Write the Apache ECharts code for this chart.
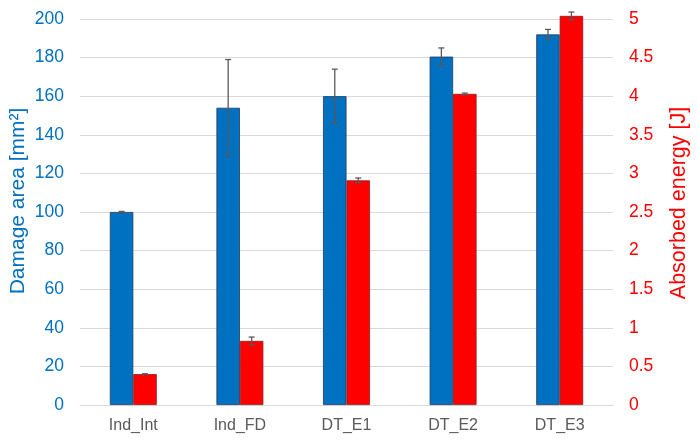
<!DOCTYPE html>
<html><head><meta charset="utf-8">
<script src="https://cdn.jsdelivr.net/npm/echarts@6/dist/echarts.min.js"></script>
<style>html,body{margin:0;padding:0;background:#fff}#c{width:699px;height:445px}</style>
</head><body><div id="c"></div>
<script>
var categories = ['Ind_Int', 'Ind_FD', 'DT_E1', 'DT_E2', 'DT_E3'];
var damageArea = [100, 154, 160, 180.5, 192];
var damageErr = [0.3, 25, 14, 4.5, 2.6];
var energy = [0.40, 0.83, 2.91, 4.03, 5.04];
var energyErr = [0.005, 0.05, 0.03, 0.01, 0.05];
var leftTicks = [0, 20, 40, 60, 80, 100, 120, 140, 160, 180, 200];
var rightTicks = [0, 0.5, 1, 1.5, 2, 2.5, 3, 3.5, 4, 4.5, 5];

var BW = 0.22;
function errRender(values, errs, side) {
  return function (params, api) {
    var i = api.value(0);
    var v = values[i], e = errs[i];
    var band = api.size([1, 0])[0];
    var off = side * band * BW / 2;
    var top = api.coord([i, v + e]);
    var bot = api.coord([i, v - e]);
    var x = top[0] + off;
    var style = { stroke: '#595959', lineWidth: 1.3 };
    return {
      type: 'group',
      children: [
        { type: 'line', shape: { x1: x, y1: top[1], x2: x, y2: bot[1] }, style: style },
        { type: 'line', shape: { x1: x - 3, y1: top[1], x2: x + 3, y2: top[1] }, style: style },
        { type: 'line', shape: { x1: x - 3, y1: bot[1], x2: x + 3, y2: bot[1] }, style: style }
      ]
    };
  };
}

var chart = echarts.init(document.getElementById('c'));
chart.setOption({
  animation: false,
  textStyle: { fontFamily: 'Liberation Sans, Arial, sans-serif' },
  grid: { left: 80, right: 86, top: 19, bottom: 40, containLabel: false, outerBoundsMode: 'none' },
  xAxis: {
    type: 'category',
    data: categories,
    axisTick: { show: false },
    axisLine: { lineStyle: { color: '#d9d9d9', width: 1 } },
    axisLabel: { color: '#595959', fontSize: 16, margin: 13 }
  },
  yAxis: [
    {
      type: 'value', min: leftTicks[0], max: leftTicks[leftTicks.length - 1], interval: 20,
      name: 'Damage area [mm²]', nameLocation: 'middle', nameRotate: 90, nameGap: 51,
      nameMoveOverlap: false,
      nameTextStyle: { color: '#0070C0', fontSize: 21, padding: [0, 0, 0, 22] },
      axisLine: { show: false }, axisTick: { show: false },
      axisLabel: { color: '#0070C0', fontSize: 17.5, margin: 16 },
      splitLine: { lineStyle: { color: '#d9d9d9', width: 1 } }
    },
    {
      type: 'value', min: rightTicks[0], max: rightTicks[rightTicks.length - 1], interval: 0.5,
      name: 'Absorbed energy [J]', nameLocation: 'middle', nameRotate: 90, nameGap: 55,
      nameMoveOverlap: false,
      nameTextStyle: { color: '#FF0000', fontSize: 21.5, padding: [0, 0, 0, 18] },
      axisLine: { show: false }, axisTick: { show: false },
      axisLabel: { color: '#FF0000', fontSize: 17.5, margin: 16 },
      splitLine: { show: false }
    }
  ],
  series: [
    {
      type: 'bar', yAxisIndex: 0, data: damageArea, barWidth: (BW * 100) + '%', barGap: '0%', clip: false,
      itemStyle: { color: '#0070C0', borderColor: '#1F3A5A', borderWidth: 0.8 }
    },
    {
      type: 'bar', yAxisIndex: 1, data: energy, barWidth: (BW * 100) + '%', barGap: '0%', clip: false,
      itemStyle: { color: '#FF0000', borderColor: '#8B1A1A', borderWidth: 0.8 }
    },
    {
      type: 'custom', yAxisIndex: 0, z: 10, clip: false,
      data: categories.map(function (c, i) { return [i]; }),
      renderItem: errRender(damageArea, damageErr, -1)
    },
    {
      type: 'custom', yAxisIndex: 1, z: 10, clip: false,
      data: categories.map(function (c, i) { return [i]; }),
      renderItem: errRender(energy, energyErr, 1)
    }
  ]
});
</script></body></html>
